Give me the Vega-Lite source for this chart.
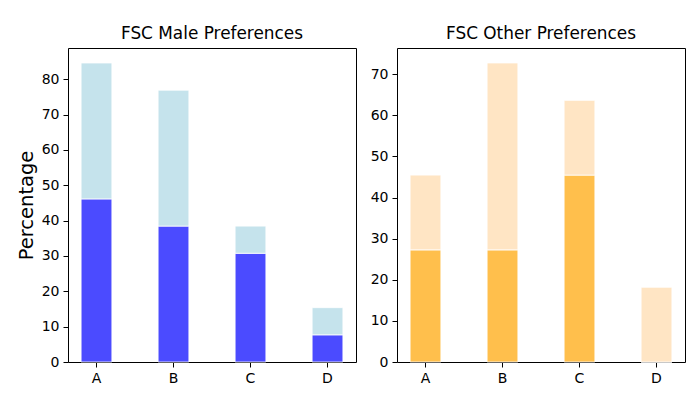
{
  "$schema": "https://vega.github.io/schema/vega-lite/v6.json",
  "padding": {"left": 15, "top": 24, "right": 10, "bottom": 5},
  "config": {
    "font": "DejaVu Sans",
    "view": {"stroke": "black", "strokeWidth": 1},
    "axis": {
      "domain": false,
      "grid": false,
      "tickColor": "black",
      "tickSize": 5,
      "labelFontSize": 14,
      "labelColor": "black",
      "labelPadding": 4,
      "titleFontWeight": "normal",
      "titleColor": "black"
    },
    "title": {"fontSize": 16.9, "fontWeight": "normal", "color": "black", "offset": 5}
  },
  "datasets": {
    "male": [
      {"option": "A", "part": "Male first", "value": 46.15, "rank": 1},
      {"option": "A", "part": "Male rest", "value": 38.46, "rank": 2},
      {"option": "B", "part": "Male first", "value": 38.46, "rank": 1},
      {"option": "B", "part": "Male rest", "value": 38.46, "rank": 2},
      {"option": "C", "part": "Male first", "value": 30.77, "rank": 1},
      {"option": "C", "part": "Male rest", "value": 7.69, "rank": 2},
      {"option": "D", "part": "Male first", "value": 7.69, "rank": 1},
      {"option": "D", "part": "Male rest", "value": 7.69, "rank": 2}
    ],
    "other": [
      {"option": "A", "part": "Other first", "value": 27.27, "rank": 1},
      {"option": "A", "part": "Other rest", "value": 18.18, "rank": 2},
      {"option": "B", "part": "Other first", "value": 27.27, "rank": 1},
      {"option": "B", "part": "Other rest", "value": 45.45, "rank": 2},
      {"option": "C", "part": "Other first", "value": 45.45, "rank": 1},
      {"option": "C", "part": "Other rest", "value": 18.18, "rank": 2},
      {"option": "D", "part": "Other first", "value": 0, "rank": 1},
      {"option": "D", "part": "Other rest", "value": 18.18, "rank": 2}
    ]
  },
  "spacing": 12,
  "hconcat": [
    {
      "title": "FSC Male Preferences",
      "width": 288,
      "height": 314,
      "data": {"name": "male"},
      "mark": {"type": "bar", "stroke": "white", "strokeWidth": 1, "strokeOpacity": 0.8},
      "encoding": {
        "x": {
          "field": "option",
          "type": "nominal",
          "scale": {"paddingInner": 0.6, "paddingOuter": 0.17},
          "axis": {"title": null, "labelAngle": 0}
        },
        "y": {
          "field": "value",
          "type": "quantitative",
          "stack": "zero",
          "scale": {"domain": [0, 88.85], "nice": false},
          "axis": {"title": "Percentage", "titleFontSize": 19.5, "values": [0, 10, 20, 30, 40, 50, 60, 70, 80], "titlePadding": 5}
        },
        "order": {"field": "rank"},
        "color": {
          "field": "part",
          "scale": {"domain": ["Male first", "Male rest"], "range": ["#4b4bff", "#c5e3ec"]},
          "legend": null
        }
      }
    },
    {
      "title": "FSC Other Preferences",
      "width": 288,
      "height": 314,
      "data": {"name": "other"},
      "mark": {"type": "bar", "stroke": "white", "strokeWidth": 1, "strokeOpacity": 0.8},
      "encoding": {
        "x": {
          "field": "option",
          "type": "nominal",
          "scale": {"paddingInner": 0.6, "paddingOuter": 0.17},
          "axis": {"title": null, "labelAngle": 0}
        },
        "y": {
          "field": "value",
          "type": "quantitative",
          "stack": "zero",
          "scale": {"domain": [0, 76.36], "nice": false},
          "axis": {"title": null, "values": [0, 10, 20, 30, 40, 50, 60, 70]}
        },
        "order": {"field": "rank"},
        "color": {
          "field": "part",
          "scale": {"domain": ["Other first", "Other rest"], "range": ["#ffbf4c", "#ffe5c4"]},
          "legend": null
        }
      }
    }
  ],
  "resolve": {"scale": {"color": "independent", "y": "independent"}}
}
